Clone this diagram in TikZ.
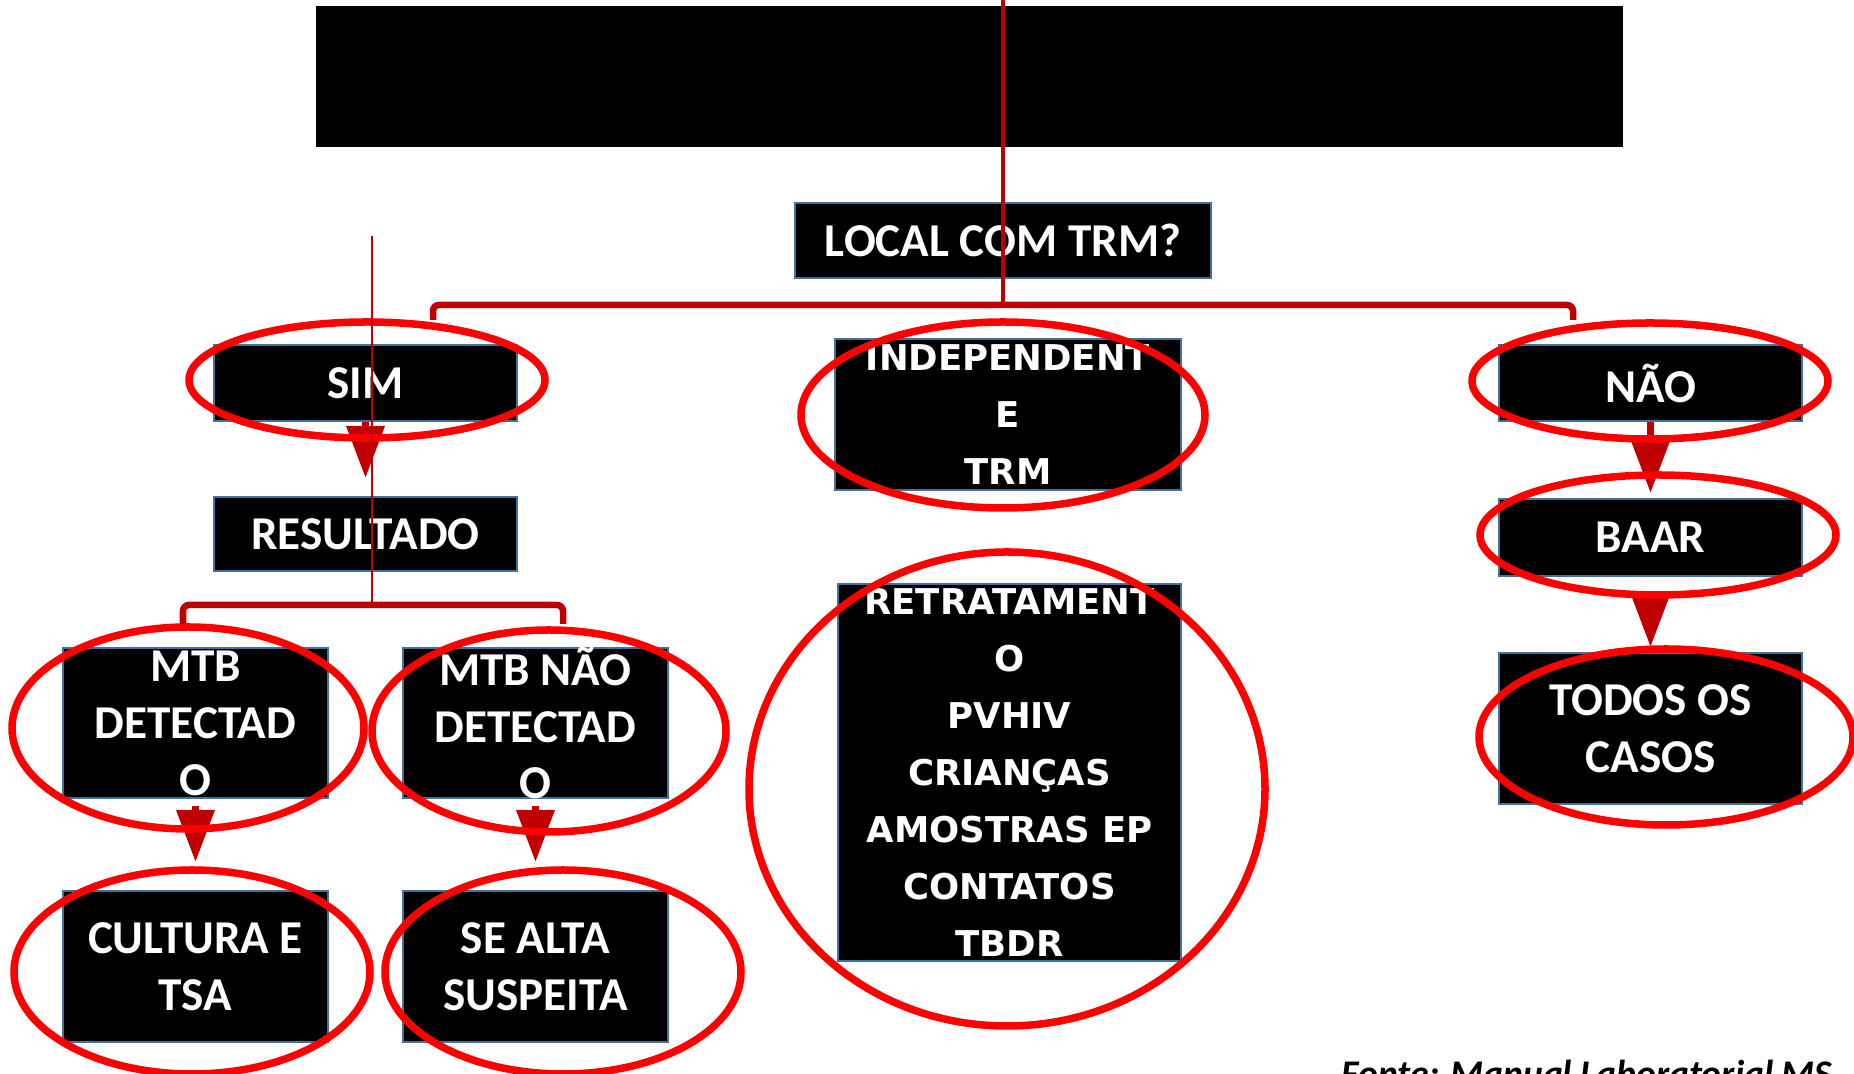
\documentclass[tikz,border=0pt]{standalone}
\usepackage{fontspec}
\setmainfont{Carlito}
\newfontfamily\verdana{DejaVu Sans}
\usepackage{tikz}
\usetikzlibrary{arrows.meta}
\definecolor{borda}{RGB}{65,113,156}
\definecolor{vinho}{RGB}{192,0,0}
\definecolor{vermelho}{RGB}{255,0,0}
\tikzset{
	texto/.style={text=white, align=center, inner sep=0pt, font=\fontsize{13.4pt}{16.2pt}\selectfont\bfseries},
	textov/.style={texto, font=\fontsize{10.1pt}{16.2pt}\selectfont\verdana\bfseries},
	caixa/.style={fill=black, draw=borda, line width=0.02cm, inner sep=0pt, label={[texto]center:#1}},
	caixav/.style={fill=black, draw=borda, line width=0.02cm, inner sep=0pt, label={[textov]center:#1}},
	seta/.style={draw=vinho, line width=0.07cm, -{Triangle[length=0.52cm,width=0.37cm]}},
	chave/.style={draw=vinho, line width=0.065cm, rounded corners=0.06cm},
	fio/.style={draw=vinho, line width=0.04cm},
	anel/.style={draw=vermelho, line width=0.075cm},
}

\begin{document}
\begin{tikzpicture}[x=0.01cm, y=-0.01cm]
	\useasboundingbox (0,0) rectangle (1854,1074);
	\clip (0,0) rectangle (1854,1074);
	% topo
	\node[fill=black, inner sep=0pt, minimum width=13.07cm, minimum height=1.41cm] (titulo) at (969.5,76.5) {};
	\node[caixa={LOCAL COM TRM?}, minimum width=4.16cm, minimum height=0.75cm] (local) at (1003,240.5) {};
	% sim
	\node[caixa=SIM, minimum width=3.03cm, minimum height=0.76cm] (sim) at (365.5,383) {};
	\node[caixa=RESULTADO, minimum width=3.03cm, minimum height=0.74cm] (resultado) at (365.5,534) {};
	\node[caixa={MTB\\DETECTAD\\O}, minimum width=2.65cm, minimum height=1.50cm] (mtbd) at (195.5,723) {};
	\node[caixa={MTB NÃO\\DETECTAD\\O}, minimum width=2.65cm, minimum height=1.50cm] (mtbnd) at (535.5,723) {};
	\node[caixa={CULTURA E\\TSA}, minimum width=2.65cm, minimum height=1.51cm] (cultura) at (195.5,966.5) {};
	\node[caixa={SE ALTA\\SUSPEITA}, minimum width=2.65cm, minimum height=1.51cm] (suspeita) at (535.5,966.5) {};
	% independente
	\node[caixav={INDEPENDENT\\E\\TRM}, minimum width=3.46cm, minimum height=1.51cm] (indep) at (1008,414.5) {};
	\node[caixav={RETRATAMENT\\O\\PVHIV\\CRIANÇAS\\AMOSTRAS EP\\CONTATOS\\TBDR}, minimum width=3.43cm, minimum height=3.77cm] (retrat) at (1009.5,772.5) {};
	% nao
	\node[caixa=NÃO, minimum width=3.03cm, minimum height=0.76cm] (nao) at (1650.5,383) {};
	\node[caixa=BAAR, minimum width=3.03cm, minimum height=0.77cm] (baar) at (1650.5,537.5) {};
	\node[caixa={TODOS OS\\CASOS}, minimum width=3.03cm, minimum height=1.51cm] (todos) at (1650.5,728.5) {};

	\node[inner sep=0pt, anchor=base east, font=\fontsize{10.7pt}{13pt}\selectfont\bfseries\itshape] (fonte) at (1833,1087) {Fonte: Manual Laboratorial MS};

	% setas
	\draw[seta, shorten >=0.18cm] (sim) -- (resultado);
	\draw[seta, shorten <=0.07cm, shorten >=0.28cm] (mtbd) -- (cultura);
	\draw[seta, shorten <=0.07cm, shorten >=0.28cm] (mtbnd) -- (suspeita);
	\draw[seta, shorten >=0.05cm] (nao) -- (baar);
	\draw[seta, shorten <=0.15cm, shorten >=0.05cm] (baar) -- (todos);

	% circulos
	\foreach \cx/\cy/\rx/\ry in {367/380/178/58, 1650/381/178/58, 1658/535/178/60,
		1666/737/187/88, 188/728/176/101, 549/731/177/101, 192/972/178/102,
		563/972/178/102, 1003/415/202/93, 1007/789/258/237}
		\draw[anel] (\cx,\cy) ellipse [x radius=\rx*0.01cm, y radius=\ry*0.01cm];

	% chaves
	\coordinate (topo) at (1003,0);
	\coordinate (juncao) at (1003,305);
	\coordinate (ramoSim) at (433,320);
	\coordinate (ramoNao) at (1573,320);
	\draw[fio] (topo) -- (juncao);
	\draw[chave] (ramoSim) |- (juncao) -| (ramoNao);

	\coordinate (fioTopo) at (372,236);
	\coordinate (juncaoRes) at (372,605);
	\coordinate (ramoMtb) at (183,624);
	\coordinate (ramoMtbn) at (563,624);
	\draw[fio, line width=0.02cm] (fioTopo) -- (juncaoRes);
	\draw[chave] (ramoMtb) |- (juncaoRes) -| (ramoMtbn);
\end{tikzpicture}
\end{document}
